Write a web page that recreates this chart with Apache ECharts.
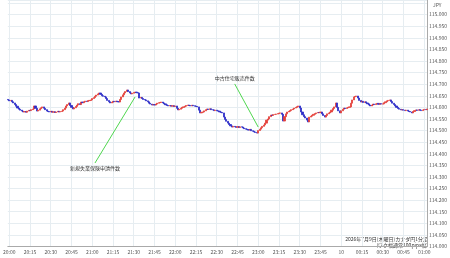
<!DOCTYPE html>
<html><head><meta charset="utf-8">
<script src="https://cdn.jsdelivr.net/npm/echarts@6/dist/echarts.min.js"></script>
<style>html,body{margin:0;padding:0;background:#fff}#c{width:450px;height:258px}</style>
</head><body><div id="c"></div>
<script>
const startTime = '19:59';
const barCount = 304;
const firstOpen = 114.634;
const closes = [
114.632,114.628,114.630,114.624,114.619,114.612,114.605,114.597,114.592,114.588,
114.584,114.580,114.582,114.579,114.584,114.587,114.586,114.590,114.593,114.606,
114.596,114.584,114.588,114.594,114.598,114.602,114.596,114.590,114.584,114.582,
114.580,114.583,114.579,114.581,114.578,114.580,114.583,114.580,114.582,114.584,
114.590,114.597,114.606,114.612,114.619,114.608,114.600,114.593,114.598,114.604,
114.610,114.616,114.612,114.623,114.620,114.624,114.627,114.625,114.629,114.630,
114.632,114.638,114.642,114.648,114.653,114.658,114.662,114.656,114.650,114.648,
114.645,114.638,114.630,114.624,114.619,114.622,114.626,114.624,114.627,114.625,
114.623,114.634,114.645,114.654,114.662,114.668,114.675,114.668,114.662,114.658,
114.661,114.664,114.666,114.663,114.662,114.640,114.643,114.638,114.634,114.632,
114.628,114.624,114.618,114.614,114.610,114.612,114.610,114.614,114.618,114.620,
114.621,114.623,114.619,114.615,114.611,114.608,114.606,114.608,114.605,114.607,
114.604,114.606,114.596,114.589,114.592,114.596,114.600,114.602,114.605,114.608,
114.610,114.608,114.606,114.609,114.607,114.605,114.604,114.602,114.588,114.576,
114.579,114.580,114.585,114.590,114.593,114.591,114.594,114.590,114.589,114.586,
114.588,114.585,114.584,114.580,114.578,114.576,114.558,114.548,114.540,114.532,
114.526,114.520,114.515,114.518,114.516,114.514,114.517,114.513,114.516,114.515,
114.511,114.508,114.506,114.504,114.502,114.505,114.499,114.497,114.494,114.492,
114.489,114.500,114.506,114.512,114.518,114.524,114.532,114.545,114.550,114.560,
114.567,114.565,114.569,114.570,114.571,114.573,114.575,114.576,114.570,114.541,
114.560,114.572,114.580,114.583,114.586,114.590,114.593,114.597,114.600,114.603,
114.606,114.597,114.580,114.568,114.560,114.554,114.545,114.537,114.558,114.562,
114.566,114.570,114.573,114.576,114.578,114.577,114.580,114.572,114.565,114.558,
114.565,114.572,114.576,114.580,114.588,114.595,114.602,114.619,114.600,114.585,
114.576,114.585,114.592,114.597,114.595,114.598,114.600,114.602,114.618,114.632,
114.645,114.647,114.649,114.640,114.630,114.623,114.626,114.621,114.624,114.619,
114.615,114.610,114.606,114.610,114.614,114.612,114.615,114.617,114.613,114.616,
114.614,114.615,114.620,114.624,114.628,114.630,114.632,114.625,114.618,114.612,
114.606,114.600,114.595,114.592,114.589,114.590,114.588,114.586,114.588,114.584,
114.582,114.580,114.576,114.582,114.586,114.589,114.587,114.590,114.588,114.586,
114.589,114.591,114.590,114.593
];
const yTicks = {min:114.000, maxLabel:115.000, interval:0.050};
const annotations = [
  {text:'新規失業保険申請件数', textAt:['21:02',114.339], from:['21:02',114.360], to:['21:31',114.645]},
  {text:'中古住宅販売件数', textAt:['22:43',114.727], from:['22:43',114.701], to:['23:00',114.515]}
];
const footer = ['2026年7月9日(木曜日)カナダ円1分足','(ワク幅通常100pips幅)'];

// time categories
const categories = [];
{
  let [h,m] = startTime.split(':').map(Number);
  for (let i=0;i<barCount;i++){
    categories.push(String(h).padStart(2,'0')+':'+String(m).padStart(2,'0'));
    m++; if(m===60){m=0;h=(h+1)%24;}
  }
}
const ohlc = closes.map((c,i)=>{
  const o = i===0?firstOpen:closes[i-1];
  return [o,c,Math.min(o,c),Math.max(o,c)];
});
const isQuarter = (idx,val)=> Number(val.split(':')[1])%15===0;
const FONT = '"Noto Sans CJK JP", "Noto Sans", sans-serif';
const chart = echarts.init(document.getElementById('c'),null,{renderer:'canvas'});
chart.setOption({
  animation:false,
  textStyle:{fontFamily:FONT},
  grid:{left:0,right:20,top:0,bottom:11.5,containLabel:false},
  xAxis:{
    type:'category',data:categories,boundaryGap:false,
    axisLine:{lineStyle:{color:'#aaa'}},
    axisTick:{show:false},
    axisLabel:{interval:isQuarter,fontSize:5,color:'#555',margin:3,
      formatter:v=>v==='00:00'?'10':v},
    splitLine:{show:true,interval:isQuarter,lineStyle:{color:'#e6edf1',width:1}}
  },
  yAxis:{
    type:'value',position:'right',min:yTicks.min,max:115.0629,interval:yTicks.interval,
    name:'JPY',nameLocation:'end',nameGap:-8,
    nameTextStyle:{fontSize:5,color:'#555',align:'left',padding:[0,0,0,6]},
    axisLine:{show:true,lineStyle:{color:'#aaa'}},
    axisTick:{show:false},
    axisLabel:{fontSize:5,color:'#555',margin:2,showMaxLabel:false,
      formatter:v=>v>yTicks.maxLabel+0.001?'':v.toFixed(3)},
    splitLine:{show:true,lineStyle:{color:'#e6edf1',width:1}}
  },
  series:[{
    type:'candlestick',data:ohlc,barWidth:1.6,
    itemStyle:{color:'#e4403a',color0:'#2c2cc8',borderColor:'#e4403a',borderColor0:'#2c2cc8',borderWidth:0.8},
    markLine:{silent:true,symbol:['none','none'],label:{show:false},
      lineStyle:{color:'#4fd64f',width:1,type:'solid'},
      data:annotations.map(a=>[{coord:a.from},{coord:a.to}])},
    markPoint:{silent:true,symbol:'rect',symbolSize:0.1,itemStyle:{color:'rgba(0,0,0,0)'},
      label:{show:true,position:'inside',fontSize:5,color:'#333',formatter:p=>p.name},
      data:annotations.map(a=>({name:a.text,coord:a.textAt}))}
  }],
  graphic:[{type:'text',right:22,top:236,style:{text:footer.join('\n'),font:'5px '+FONT,fill:'#333',textAlign:'right',lineHeight:6}}]
});
</script></body></html>
